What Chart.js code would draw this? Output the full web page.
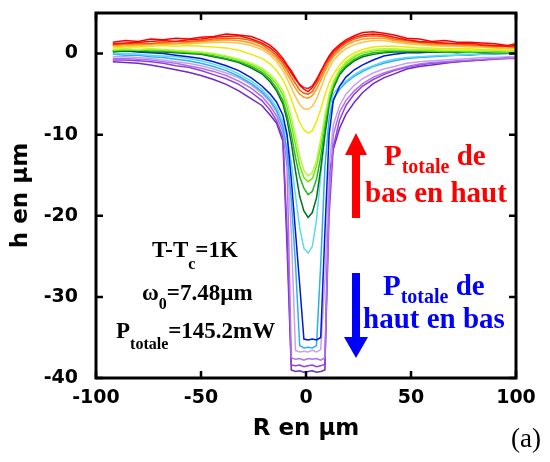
<!DOCTYPE html>
<html>
<head>
<meta charset="utf-8">
<script src="https://cdn.jsdelivr.net/npm/chart.js@4.4.0/dist/chart.umd.min.js"></script>
<style>
  html, body { margin: 0; padding: 0; background: #fff; }
  #box { width: 550px; height: 462px; }
</style>
</head>
<body>
<div id="box"><canvas id="chart" width="550" height="462"></canvas></div>
<script>
// h(R) profiles, one per laser power step
const R_UM = [-92,-86,-80,-74,-68,-62,-56,-50,-44,-38,
  -32,-26,-21,-17,-14,-11,-9,-7,-5,-3,
  -1,1,3,5,7,9,11,13,16,19,
  23,27,32,37,42,48,54,60,66,72,
  78,84,90,96,100];

const H_RED1 = [1.4,1.6,1.5,1.8,1.7,1.9,1.8,2.0,2.1,2.4,
  2.3,2.1,1.6,1.0,0.3,-0.6,-1.4,-2.1,-3.0,-3.9,
  -4.4,-4.7,-4.2,-3.4,-2.3,-1.2,-0.3,0.4,1.1,1.7,
  2.2,2.6,2.7,2.5,2.3,1.9,1.8,1.5,1.6,1.4,
  1.4,1.3,1.2,1.0,1.2];
const H_RED2 = [1.2,1.3,1.4,1.5,1.6,1.5,1.7,1.8,2.0,2.1,
  2.2,1.8,1.3,0.7,0.0,-0.9,-1.6,-2.4,-3.2,-3.8,
  -4.2,-4.3,-4.0,-3.2,-2.2,-1.3,-0.5,0.2,0.9,1.5,
  2.0,2.3,2.4,2.3,2.0,1.7,1.5,1.4,1.3,1.2,
  1.3,1.1,1.0,0.9,1.0];
const H_ORANGE_RED = [1.1,1.2,1.3,1.2,1.4,1.5,1.5,1.6,1.8,1.9,
  1.9,1.6,1.1,0.4,-0.3,-1.2,-2.0,-2.9,-3.7,-4.5,
  -4.9,-5.0,-4.7,-3.8,-2.8,-1.7,-0.8,-0.1,0.7,1.3,
  1.8,2.1,2.2,2.1,1.8,1.6,1.4,1.3,1.2,1.2,
  1.1,1.0,0.9,0.9,0.8];
const H_ORANGE = [1.0,1.1,1.1,1.2,1.3,1.2,1.4,1.5,1.6,1.7,
  1.6,1.3,0.8,0.1,-0.6,-1.6,-2.5,-3.4,-4.3,-5.0,
  -5.4,-5.5,-5.2,-4.4,-3.3,-2.2,-1.2,-0.4,0.4,1.0,
  1.5,1.8,1.9,1.9,1.6,1.4,1.3,1.1,1.1,1.0,
  1.0,0.9,0.8,0.8,0.7];
const H_LIGHT_ORANGE = [0.9,0.9,1.0,1.1,1.1,1.2,1.2,1.3,1.4,1.4,
  1.3,1.0,0.5,-0.2,-1.0,-2.1,-3.1,-4.2,-5.3,-6.3,
  -6.8,-6.9,-6.5,-5.6,-4.3,-2.9,-1.8,-0.9,0.0,0.6,
  1.1,1.4,1.6,1.6,1.4,1.2,1.1,1.0,0.9,0.9,
  0.8,0.8,0.7,0.6,0.7];
const H_YELLOW = [0.7,0.8,0.8,0.9,1.0,0.9,1.0,0.9,0.8,0.7,
  0.4,-0.1,-0.6,-1.3,-2.1,-3.2,-4.3,-5.6,-7.1,-8.5,
  -9.4,-9.8,-9.5,-8.4,-6.9,-5.1,-3.6,-2.6,-1.4,-0.6,
  0.1,0.5,0.8,0.9,0.9,0.8,0.7,0.7,0.6,0.6,
  0.6,0.5,0.5,0.4,0.5];
const H_LIME = [0.5,0.6,0.5,0.6,0.5,0.4,0.3,0.2,0.0,-0.3,
  -0.7,-1.2,-1.8,-2.6,-3.4,-4.6,-6.0,-7.9,-10.2,-12.7,
  -14.4,-15.1,-14.7,-13.2,-10.6,-7.6,-5.0,-3.4,-1.9,-1.0,
  -0.2,0.2,0.5,0.6,0.6,0.5,0.5,0.5,0.4,0.4,
  0.4,0.3,0.4,0.3,0.3];
const H_LIGHT_GREEN = [0.4,0.5,0.4,0.5,0.4,0.3,0.2,0.1,-0.1,-0.4,
  -0.8,-1.4,-2.0,-2.9,-3.8,-5.1,-6.7,-8.8,-11.3,-13.8,
  -15.3,-15.8,-15.4,-13.9,-11.4,-8.1,-5.3,-3.7,-2.1,-1.2,
  -0.4,0.1,0.3,0.4,0.4,0.4,0.4,0.3,0.3,0.3,
  0.2,0.3,0.2,0.2,0.3];
const H_GREEN = [0.3,0.4,0.4,0.3,0.3,0.2,0.1,0.0,-0.3,-0.6,
  -1.0,-1.6,-2.3,-3.2,-4.3,-5.8,-7.6,-10.0,-12.8,-15.2,
  -16.6,-17.4,-17.0,-15.5,-12.8,-9.0,-5.8,-4.0,-2.4,-1.5,
  -0.7,-0.2,0.1,0.2,0.3,0.3,0.3,0.3,0.2,0.2,
  0.2,0.2,0.2,0.1,0.2];
const H_DARK_GREEN = [0.2,0.3,0.3,0.2,0.2,0.1,0.0,-0.1,-0.4,-0.7,
  -1.1,-1.8,-2.5,-3.5,-4.6,-6.2,-8.2,-11.0,-14.5,-17.6,
  -19.4,-20.2,-19.6,-17.8,-14.2,-10.0,-6.2,-4.3,-2.6,-1.7,
  -0.9,-0.4,-0.1,0.1,0.2,0.2,0.2,0.2,0.2,0.1,
  0.2,0.1,0.1,0.1,0.1];
const H_BLUE = [0.3,0.3,0.2,0.1,0.0,-0.2,-0.4,-0.6,-1.0,-1.5,
  -2.1,-3.0,-4.0,-5.0,-6.0,-7.6,-10.0,-15.5,-22.0,-28.5,
  -35.2,-35.3,-35.2,-35.3,-35.0,-22.0,-10.0,-5.8,-4.0,-2.9,
  -2.0,-1.4,-0.8,-0.3,-0.1,0.1,0.1,0.2,0.2,0.3,
  0.2,0.3,0.3,0.3,0.4];
const H_CYAN = [0.0,0.0,-0.1,-0.2,-0.3,-0.4,-0.6,-0.9,-1.3,-1.8,
  -2.5,-3.4,-4.4,-5.5,-6.6,-8.4,-10.4,-13.5,-17.5,-21.5,
  -24.0,-24.6,-23.8,-20.5,-15.0,-10.0,-6.8,-5.0,-4.0,-3.4,
  -2.6,-2.0,-1.5,-1.0,-0.7,-0.5,-0.4,-0.3,-0.2,-0.2,
  -0.1,-0.1,0.0,0.0,0.0];
const H_SKY = [-0.1,-0.2,-0.2,-0.4,-0.5,-0.7,-0.9,-1.2,-1.6,-2.1,
  -2.8,-3.7,-4.7,-5.8,-7.0,-9.0,-12.0,-18.0,-26.0,-36.0,
  -36.3,-36.2,-36.3,-36.0,-26.0,-14.0,-8.0,-5.6,-4.4,-3.6,
  -2.8,-2.2,-1.6,-1.2,-0.9,-0.6,-0.5,-0.4,-0.3,-0.2,
  -0.2,-0.1,-0.1,0.0,0.0];
const H_LAVENDER = [-0.4,-0.4,-0.5,-0.6,-0.8,-1.0,-1.2,-1.5,-1.9,-2.4,
  -3.0,-3.9,-4.9,-6.0,-7.2,-9.0,-12.5,-22.0,-36.6,-36.8,
  -36.7,-36.8,-36.6,-36.8,-36.5,-28.0,-14.0,-8.8,-6.4,-5.0,
  -3.9,-3.1,-2.4,-1.9,-1.6,-1.2,-1.0,-0.9,-0.8,-0.7,
  -0.6,-0.5,-0.5,-0.4,-0.4];
const H_ORCHID = [-0.6,-0.6,-0.7,-0.8,-1.0,-1.2,-1.5,-1.8,-2.2,-2.7,
  -3.4,-4.3,-5.3,-6.5,-7.7,-9.6,-14.0,-37.5,-37.7,-37.6,
  -37.8,-37.6,-37.7,-37.6,-37.8,-37.5,-18.0,-10.0,-7.2,-5.8,
  -4.6,-3.7,-2.9,-2.4,-2.0,-1.6,-1.3,-1.1,-1.0,-0.9,
  -0.8,-0.7,-0.6,-0.6,-0.5];
const H_PURPLE = [-0.8,-0.8,-0.9,-1.0,-1.2,-1.5,-1.7,-2.1,-2.6,-3.1,
  -3.8,-4.8,-5.8,-7.0,-8.3,-10.3,-22.0,-38.4,-38.5,-38.4,
  -38.6,-38.5,-38.4,-38.6,-38.5,-38.3,-20.0,-11.5,-8.2,-6.4,
  -5.0,-4.0,-3.2,-2.6,-2.1,-1.7,-1.4,-1.2,-1.1,-1.0,
  -0.9,-0.8,-0.7,-0.6,-0.6];
const H_VIOLET = [-1.0,-1.1,-1.2,-1.4,-1.7,-2.0,-2.3,-2.7,-3.2,-3.8,
  -4.6,-5.6,-6.4,-7.6,-8.6,-10.8,-24.0,-39.0,-39.2,-39.1,
  -39.3,-39.2,-39.1,-39.3,-39.2,-39.0,-15.0,-11.8,-9.2,-7.5,
  -6.0,-4.8,-3.7,-3.0,-2.5,-1.9,-1.6,-1.4,-1.2,-1.0,
  -0.9,-0.8,-0.6,-0.5,-0.4];

const X_TICKS = [-100, -50, 0, 50, 100];
const Y_TICKS = [-40, -30, -20, -10, 0];

const SERIES = [
  [H_RED1, '#ff0000'], [H_RED2, '#e81414'], [H_ORANGE_RED, '#ff5a00'],
  [H_ORANGE, '#ff9a1a'], [H_LIGHT_ORANGE, '#ffc34a'], [H_YELLOW, '#f0e800'],
  [H_LIME, '#b8f53c'], [H_LIGHT_GREEN, '#66ee00'], [H_GREEN, '#1fb81f'],
  [H_DARK_GREEN, '#00701a'], [H_BLUE, '#0018d8'], [H_CYAN, '#5ad8f5'],
  [H_SKY, '#2ab0f0'], [H_LAVENDER, '#c8a0f0'], [H_ORCHID, '#b070e8'],
  [H_PURPLE, '#9040e0'], [H_VIOLET, '#7028c8'],
];

const SERIF = '"Liberation Serif", "Times New Roman", serif';
const SANS = '"DejaVu Sans", Arial, sans-serif';

function runs(ctx, x, y, parts, color) {
  ctx.fillStyle = color;
  ctx.textAlign = 'left';
  ctx.textBaseline = 'alphabetic';
  parts.forEach(p => {
    ctx.font = p.f;
    ctx.fillText(p.t, x, y + (p.dy || 0));
    x += ctx.measureText(p.t).width;
  });
}

const overlay = {
  id: 'overlay',
  afterDatasetsDraw(chart) {
    const ctx = chart.ctx, a = chart.chartArea;
    const xs = chart.scales.x, ys = chart.scales.y;
    ctx.save();
    // frame + inward ticks on all sides
    ctx.strokeStyle = '#000';
    ctx.lineWidth = 3;
    ctx.strokeRect(a.left, a.top, a.right - a.left, a.bottom - a.top);
    ctx.lineWidth = 2.5;
    ctx.beginPath();
    X_TICKS.forEach(v => {
      const p = xs.getPixelForValue(v);
      ctx.moveTo(p, a.bottom); ctx.lineTo(p, a.bottom - 7);
      ctx.moveTo(p, a.top); ctx.lineTo(p, a.top + 7);
    });
    Y_TICKS.forEach(v => {
      const p = ys.getPixelForValue(v);
      ctx.moveTo(a.left, p); ctx.lineTo(a.left + 7, p);
      ctx.moveTo(a.right, p); ctx.lineTo(a.right - 7, p);
    });
    ctx.stroke();

    // arrows
    ctx.fillStyle = '#ff0000';
    ctx.fillRect(352, 154, 8, 64);
    ctx.beginPath(); ctx.moveTo(345, 155); ctx.lineTo(367, 155); ctx.lineTo(356, 133); ctx.closePath(); ctx.fill();
    ctx.fillStyle = '#0000ff';
    ctx.fillRect(352, 273, 8, 65);
    ctx.beginPath(); ctx.moveTo(344, 337); ctx.lineTo(368, 337); ctx.lineTo(356, 358); ctx.closePath(); ctx.fill();

    // annotations
    const big = 'bold 29px ' + SERIF, bigSub = 'bold 20px ' + SERIF;
    runs(ctx, 384, 165, [{ t: 'P', f: big }, { t: 'totale', f: bigSub, dy: 8 }, { t: ' de', f: big }], '#ff0000');
    runs(ctx, 365, 202, [{ t: 'bas en haut', f: big }], '#ff0000');
    runs(ctx, 383, 295, [{ t: 'P', f: big }, { t: 'totale', f: bigSub, dy: 8 }, { t: ' de', f: big }], '#0000ff');
    runs(ctx, 363, 328, [{ t: 'haut en bas', f: big }], '#0000ff');

    const m = 'bold 23px ' + SERIF, s = 'bold 16px ' + SERIF;
    runs(ctx, 152, 257, [{ t: 'T-T', f: m }, { t: 'c', f: s, dy: 12 }, { t: '=1K', f: m }], '#000');
    runs(ctx, 142, 300, [{ t: 'ω', f: m }, { t: '0', f: s, dy: 9 }, { t: '=7.48µm', f: m }], '#000');
    runs(ctx, 116, 338, [{ t: 'P', f: m }, { t: 'totale', f: s, dy: 11 }, { t: '=145.2mW', f: m }], '#000');

    ctx.font = '27px ' + SERIF;
    ctx.fillStyle = '#000';
    ctx.fillText('(a)', 511, 447);
    ctx.restore();
  }
};

new Chart(document.getElementById('chart'), {
  type: 'line',
  data: {
    datasets: SERIES.map(([vals, col], i) => ({
      label: 'P' + i,
      data: R_UM.map((r, k) => ({ x: r, y: vals[k] })),
      borderColor: col, backgroundColor: col,
      borderWidth: 1.5, pointRadius: 0, tension: 0, fill: false,
    })),
  },
  options: {
    responsive: false, animation: false,
    layout: { padding: { top: 13, right: 34, left: 0, bottom: 0 } },
    plugins: { legend: { display: false }, tooltip: { enabled: false } },
    scales: {
      x: {
        type: 'linear', min: -100, max: 100,
        afterBuildTicks: sc => { sc.ticks = X_TICKS.map(v => ({ value: v })); },
        afterFit: sc => { sc.height = 84; sc.paddingLeft = 0; sc.paddingRight = 0; },
        grid: { display: false, drawTicks: false },
        border: { display: false },
        ticks: { color: '#000', font: { family: SANS, size: 19, weight: 'bold' }, padding: 9, maxRotation: 0 },
        title: { display: true, text: 'R en µm', color: '#000', font: { family: SANS, size: 23, weight: 'bold' }, padding: { top: 0, bottom: 19 } },
      },
      y: {
        type: 'linear', min: -40, max: 5,
        afterBuildTicks: sc => { sc.ticks = Y_TICKS.map(v => ({ value: v })); },
        afterFit: sc => { sc.width = 96; sc.paddingTop = 0; sc.paddingBottom = 0; },
        grid: { display: false, drawTicks: false },
        border: { display: false },
        ticks: { color: '#000', font: { family: SANS, size: 19, weight: 'bold' }, padding: 18 },
        title: { display: true, text: 'h en µm', color: '#000', font: { family: SANS, size: 23, weight: 'bold' }, padding: { top: 7, bottom: 0 } },
      },
    },
  },
  plugins: [overlay],
});
</script>
</body>
</html>
